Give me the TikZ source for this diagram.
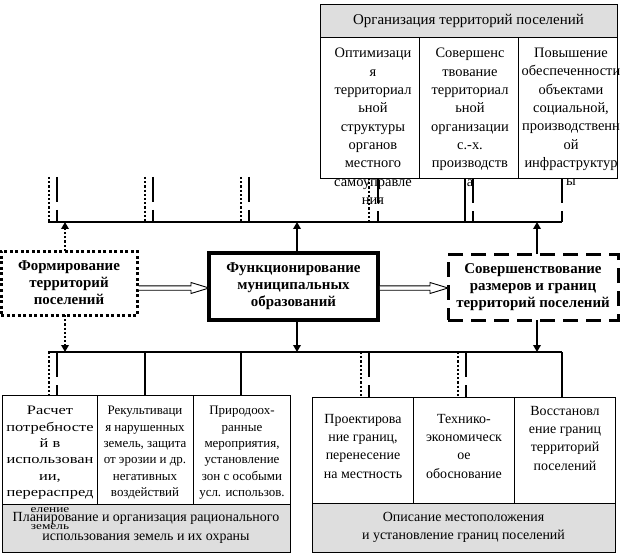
\documentclass[tikz,border=0pt]{standalone}
\usepackage{fontspec}
\setmainfont{Liberation Serif}
\usetikzlibrary{arrows.meta,calc}
\definecolor{panelgray}{RGB}{222,222,222}
\newcommand\widetxt{\addfontfeature{FakeStretch=1.27}}
\tikzset{
  cell/.style={draw, line width=0.9bp, inner sep=0pt, outer sep=0pt, anchor=north west},
  graycell/.style={cell, fill=panelgray, align=center},
  celltext/.style={anchor=north, inner sep=0pt, align=center},
  toptext/.style={celltext, font=\fontsize{14.5}{18.4}\selectfont},
  lowtext/.style={celltext, font=\fontsize{13}{16.4}\selectfont},
  righttext/.style={celltext, font=\fontsize{14}{18.3}\selectfont},
  busline/.style={line width=1.3bp},
  dotline/.style={line width=2.4bp, dash pattern=on 2.2bp off 2bp},
  dashline/.style={line width=2.6bp, dash pattern=on 25bp off 8bp},
  solidline/.style={line width=2.6bp},
  tipA/.style={-{Triangle[length=7bp,width=7.5bp]}},
  dotarrow/.style={dotline, tipA},
  solidarrow/.style={solidline, tipA},
  hollowarrow/.style={line width=0.9bp, fill=white, line join=miter},
  mainbox/.style={inner sep=0pt, outer sep=0pt, anchor=north west, align=center, font=\fontsize{15}{17}\selectfont\bfseries},
}
\begin{document}
\begin{tikzpicture}[x=1bp,y=-1bp]
\useasboundingbox (0,0) rectangle (637,553);

% ---------- top block
\node[graycell, minimum width=297bp, minimum height=33bp, font=\fontsize{15}{17}\selectfont] (orghead) at (320,4) {Организация территорий поселений};
\node[cell, minimum width=99bp, minimum height=141bp] (oc1) at (320,37) {};
\node[cell, minimum width=99bp, minimum height=141bp] (oc2) at (419,37) {};
\node[cell, minimum width=99bp, minimum height=141bp] (oc3) at (518,37) {};
\node[toptext] (oc1t) at (373,48) {Оптимизаци\\я\\территориал\\ьной\\структуры\\органов\\местного\\самоуправле\\ния};
\node[toptext] (oc2t) at (470,48) {Совершенс\\твование\\территориал\\ьной\\организации\\с.-х.\\производств\\а};
\node[toptext] (oc3t) at (571,48) {Повышение\\обеспеченности\\объектами\\социальной,\\производственн\\ой\\инфраструктур\\ы};

% ---------- middle boxes
\node[mainbox, draw, line width=3bp, dash pattern=on 3bp off 2.5bp, minimum width=136bp, minimum height=64bp] (fm) at (1,251) {Формирование\\территорий\\поселений};
\node[mainbox, draw, line width=3.5bp, minimum width=169bp, minimum height=67bp] (fn) at (209,253) {Функционирование\\муниципальных\\образований};
\node[mainbox, draw, line width=3bp, dash pattern=on 15bp off 8bp, minimum width=170bp, minimum height=66bp] (sv) at (448,254) {Совершенствование\\размеров и границ\\территорий поселений};

% ---------- bottom-left block
\node[cell, minimum width=95bp, minimum height=109bp] (bl1) at (2,395) {};
\node[cell, minimum width=96bp, minimum height=109bp] (bl2) at (97,395) {};
\node[cell, minimum width=97bp, minimum height=109bp] (bl3) at (193,395) {};
\node[graycell, minimum width=288bp, minimum height=48bp, font=\fontsize{14}{19}\selectfont] (blg) at (2,504) {Планирование и организация рационального\\использования земель и их охраны};
\node[lowtext] (bl1t) at (50,406) {\widetxt Расчет\\\widetxt потребносте\\\widetxt й в\\\widetxt использован\\\widetxt ии,\\\widetxt перераспред\\{\fontsize{10.5}{16.4}\selectfont\widetxt еление}\\{\fontsize{10.5}{16.4}\selectfont\widetxt земель}};
\node[lowtext] (bl2t) at (145,406) {Рекультиваци\\я нарушенных\\земель, защита\\от эрозии и др.\\негативных\\воздействий};
\node[lowtext] (bl3t) at (242,406) {Природоох-\\ранные\\мероприятия,\\установление\\зон с особыми\\усл. использов.};

% ---------- bottom-right block
\node[cell, minimum width=101bp, minimum height=106bp] (br1) at (312,397) {};
\node[cell, minimum width=101bp, minimum height=106bp] (br2) at (413,397) {};
\node[cell, minimum width=101bp, minimum height=106bp] (br3) at (514,397) {};
\node[graycell, minimum width=303bp, minimum height=49bp, font=\fontsize{14}{18}\selectfont] (brg) at (312,503) {Описание местоположения\\и установление границ поселений};
\node[righttext] (br1t) at (363,414) {Проектирова\\ние границ,\\перенесение\\на местность};
\node[righttext] (br2t) at (464,414) {Технико-\\экономическ\\ое\\обоснование};
\node[righttext] (br3t) at (565,406) {Восстановл\\ение границ\\территорий\\поселений};

% ---------- buses
\coordinate (tbL) at (48,222); \coordinate (tbR) at (562,222);
\coordinate (bbL) at (48,352); \coordinate (bbR) at (562,352);
\draw[busline] (tbL) -- (tbR);
\draw[busline] (bbL) -- (bbR);

% top taps without a box above
\foreach \x in {49,145,241} {
  \coordinate (td\x) at (\x,177);
  \draw[dotline] (td\x) -- (td\x |- tbL);
}
\foreach \x in {57,153,249} {
  \coordinate (tq\x) at (\x,177);
  \draw[dashline] (tq\x) -- (tq\x |- tbL);
}
% top taps into the upper block
\coordinate (t369) at (369,222); \coordinate (t378) at (378,222);
\coordinate (t465) at (465,222); \coordinate (t473) at (473,222);
\draw[dotline] (oc1.south -| t369) -- (t369);
\draw[dashline] (oc1.south -| t378) -- (t378);
\draw[solidline] (oc2.south -| t465) -- (t465);
\draw[dashline] (oc2.south -| t473) -- (t473);
\draw[dashline] (oc3.south -| tbR) -- (tbR);

% bottom taps
\coordinate (b49) at (49,352); \coordinate (b57) at (57,352);
\coordinate (b145) at (145,352); \coordinate (b241) at (241,352);
\coordinate (b361) at (361,352); \coordinate (b369) at (369,352);
\coordinate (b458) at (458,352); \coordinate (b466) at (466,352);
\draw[dotline] (b49) -- (b49 |- bl1.north);
\draw[dashline] (b57) -- (b57 |- bl1.north);
\draw[solidline] (b145) -- (b145 |- bl2.north);
\draw[solidline] (b241) -- (b241 |- bl3.north);
\draw[dotline] (b361) -- (b361 |- br1.north);
\draw[dashline] (b369) -- (b369 |- br1.north);
\draw[dotline] (b458) -- (b458 |- br2.north);
\draw[dashline] (b466) -- (b466 |- br2.north);
\draw[solidline] (bbR) -- (bbR |- br3.north);

% arrows from the three middle boxes
\coordinate (fmUp) at (65,222); \coordinate (fmDn) at (65,352);
\coordinate (fnUp) at (297,222); \coordinate (fnDn) at (297,352);
\coordinate (svUp) at (537,222); \coordinate (svDn) at (537,352);
\draw[dotarrow] (fm.north -| fmUp) -- (fmUp);
\draw[dotarrow] (fm.south -| fmDn) -- (fmDn);
\draw[solidarrow] (fn.north -| fnUp) -- (fnUp);
\draw[solidarrow] (fn.south -| fnDn) -- (fnDn);
\draw[solidarrow] (sv.north -| svUp) -- (svUp);
\draw[solidarrow] (sv.south -| svDn) -- (svDn);

% hollow arrows
\coordinate (h1s) at (fm.east |- 0,288); \coordinate (h1e) at (fn.west |- 0,288);
\coordinate (h2s) at (fn.east |- 0,288); \coordinate (h2e) at (sv.west |- 0,288);
\draw[hollowarrow] ($(h1s)+(1.5,-2.2)$) -- ($(h1e)+(-18,-2.2)$) -- ($(h1e)+(-18,-5.5)$) -- (h1e) -- ($(h1e)+(-18,5.5)$) -- ($(h1e)+(-18,2.2)$) -- ($(h1s)+(1.5,2.2)$);
\draw[hollowarrow] ($(h2s)+(1.8,-2.2)$) -- ($(h2e)+(-18,-2.2)$) -- ($(h2e)+(-18,-5.5)$) -- (h2e) -- ($(h2e)+(-18,5.5)$) -- ($(h2e)+(-18,2.2)$) -- ($(h2s)+(1.8,2.2)$);
\end{tikzpicture}
\end{document}
